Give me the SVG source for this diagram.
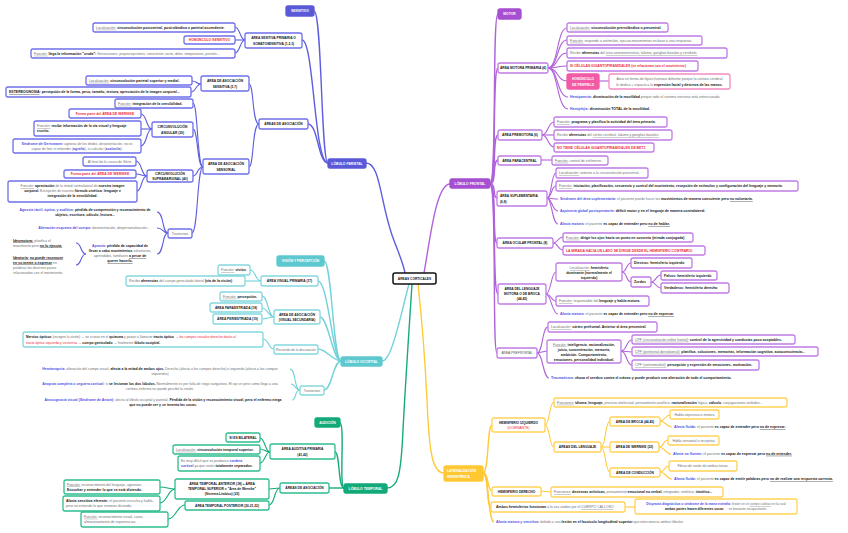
<svg xmlns="http://www.w3.org/2000/svg" width="848" height="533" viewBox="0 0 848 533">
<style>
text{font-family:"Liberation Sans",Arial,sans-serif;font-size:3.5px;fill:#707070}
.n{font-weight:700;fill:#151515;font-size:3.25px;text-anchor:middle}
.w{font-weight:700;fill:#fff;font-size:3.35px;text-anchor:middle}
.c{text-anchor:middle}
.k{font-weight:700;fill:#151515}
.u{text-decoration:underline}
.r{fill:#ef2b41;font-weight:700;font-size:3.4px}
.v{fill:#4f4fe3;font-weight:700}
rect{fill:#fff;stroke-width:1.3;rx:2px;ry:2px}
.P{stroke:#6f6fea}.F{stroke:#c07ce6}.O{stroke:#84d7de}.T{stroke:#2fbd8e}.L{stroke:#ffd257}
.PF{fill:#5a5ad8;stroke:#5a5ad8}.FF{fill:#a64fd1;stroke:#a64fd1}.OF{fill:#5ec8cf;stroke:#5ec8cf}.TF{fill:#13a979;stroke:#13a979}.LF{fill:#ffc833;stroke:#ffc833}
.pk{fill:#f25aa6;stroke:#f25aa6}.pb{stroke:#f48cc4}
.cx{fill:#fff;stroke:#111;stroke-width:1.5}
path{fill:none;stroke-width:1.1}
.m{stroke-width:1.4}
#cp path{stroke:#5d5ddf}#cf path{stroke:#b062da}#co path{stroke:#72d2d9}#ct path{stroke:#15ab7a}#cl path{stroke:#ffca3a}
</style>
<g id="connectors">
<g id="cp">
<path class="m" d="M328,163 C321,163 322,11 314,11"/>
<path class="m" d="M328,163 C314,163 314,40 302,40"/>
<path class="m" d="M328,163 C318,163 318,124 308,124"/>
<path class="m" d="M366,163 C380,163 380,200 392,235 C398,252 403,262 405,273"/>
<path d="M245,40 C240,40 240,27 235,27"/>
<path d="M245,40 L235,40"/>
<path d="M245,40 C240,40 240,53 235,53"/>
<path d="M259,124 C252,124 254,84 249,84"/>
<path d="M259,124 C252,124 254,167 249,167"/>
<path d="M201,84 C196,84 197,81 192,81"/>
<path d="M201,84 C196,84 196,92 191,92"/>
<path d="M203,167 C197,167 198,103 193,103"/>
<path d="M203,167 C197,167 198,129 193,129"/>
<path d="M203,167 C197,167 198,176 193,176"/>
<path d="M203,167 C197,167 198,233 192,233"/>
<path d="M152,129 C146,129 147,114 141,114"/>
<path d="M152,129 L141,129"/>
<path d="M152,129 C146,129 147,146 141,146"/>
<path d="M147,176 C141,176 142,161 136,161"/>
<path d="M147,176 C141,176 142,174 136,174"/>
<path d="M147,176 C141,176 142,191 137,191"/>
<path d="M168,233 C162,233 164,212 157,212"/>
<path d="M168,233 C162,233 164,228 157,228"/>
<path d="M168,233 C162,233 164,254 157,254"/>
<path d="M86,254 C80,254 82,243 76,243"/>
<path d="M86,254 C80,254 82,265 76,265"/>
</g>
<g id="cf">
<path class="m" d="M424,273 C430,240 436,184 450,184"/>
<path class="m" d="M490,184 C497,184 492,14 498,14"/>
<path class="m" d="M490,184 C497,184 492,68 498,68"/>
<path class="m" d="M490,184 C497,184 492,135 498,135"/>
<path class="m" d="M490,184 C497,184 492,160 498,160"/>
<path class="m" d="M490,184 C497,184 492,198 497,198"/>
<path class="m" d="M490,184 C497,184 492,243 497,243"/>
<path class="m" d="M490,184 C497,184 492,294 498,294"/>
<path class="m" d="M490,184 C497,184 492,353 497,353"/>
<path d="M548,68 C558,68 557,28 567,28"/>
<path d="M548,68 C558,68 557,40 567,40"/>
<path d="M548,68 C558,68 557,53 567,53"/>
<path d="M548,68 C558,68 557,66 567,66"/>
<path d="M548,68 C558,68 557,81 567,81"/>
<path d="M548,68 C558,68 557,97 568,97"/>
<path d="M548,68 C558,68 557,109 568,109"/>
<path d="M599,81 L609,81"/>
<path d="M542,135 C548,135 548,122 554,122"/>
<path d="M542,135 L554,135"/>
<path d="M542,135 C548,135 548,147 554,147"/>
<path d="M541,160 L552,160"/>
<path d="M547,198 C552,198 551,173 556,173"/>
<path d="M547,198 C552,198 551,186 556,186"/>
<path d="M547,198 C552,198 552,199 558,199"/>
<path d="M547,198 C552,198 552,211 558,211"/>
<path d="M547,198 C552,198 552,224 558,224"/>
<path d="M553,243 C558,243 558,237 563,237"/>
<path d="M553,243 C558,243 558,250 563,250"/>
<path d="M546,294 C551,294 551,272 556,272"/>
<path d="M546,294 C551,294 551,301 556,301"/>
<path d="M546,294 C551,294 552,314 558,314"/>
<path d="M622,272 C627,272 626,263 631,263"/>
<path d="M622,272 C627,272 626,282 631,282"/>
<path d="M651,282 C656,282 656,275 661,275"/>
<path d="M651,282 C656,282 656,288 661,288"/>
<path d="M537,353 C543,353 542,327 548,327"/>
<path d="M537,353 L547,351"/>
<path d="M537,353 C543,353 543,378 549,378"/>
<path d="M621,351 C627,351 626,340 632,340"/>
<path d="M621,351 L632,352"/>
<path d="M621,351 C627,351 626,365 632,365"/>
</g>
<g id="co">
<path class="m" d="M409,284 C402,310 396,340 389,354 C386,359 385,361 382,361"/>
<path class="m" d="M341,361 C333,361 332,261 324,261"/>
<path class="m" d="M341,361 C333,361 328,281 318,281"/>
<path class="m" d="M341,361 C333,361 328,317 320,317"/>
<path class="m" d="M341,361 C333,361 326,349 318,349"/>
<path class="m" d="M341,361 C333,361 332,390 324,390"/>
<path d="M261,281 C255,281 256,270 250,270"/>
<path d="M261,281 L245,281"/>
<path d="M274,317 C268,317 268,296 262,296"/>
<path d="M274,317 C268,317 268,308 262,308"/>
<path d="M274,317 C268,317 268,319 262,319"/>
<path d="M274,349 C268,349 269,339 263,339"/>
<path d="M300,390 C294,390 296,369 290,369"/>
<path d="M300,390 C294,390 296,384 291,384"/>
<path d="M300,390 C294,390 297,400 292,400"/>
</g>
<g id="ct">
<path class="m" d="M412,284 C409,330 405,390 403,430 C401,475 398,488 387,488"/>
<path class="m" d="M344,488 C339,488 345,423 340,423"/>
<path class="m" d="M344,488 C338,488 340,452 335,452"/>
<path class="m" d="M344,488 L329,488"/>
<path d="M270,452 C265,452 265,438 260,438"/>
<path d="M270,452 C265,452 265,449 260,449"/>
<path d="M270,452 C265,452 265,463 260,463"/>
<path d="M280,488 L269,489"/>
<path d="M280,488 C274,488 275,505 269,505"/>
<path d="M175,489 C168,489 167,487 160,487"/>
<path d="M175,489 C168,489 167,503 160,503"/>
<path d="M185,505 C177,505 176,519 168,519"/>
</g>
<g id="cl">
<path class="m" d="M418,284 C422,320 425,360 427,400 C429,450 432,473 444,473"/>
<path class="m" d="M483,473 C489,473 487,425 492,425"/>
<path class="m" d="M483,473 C489,473 487,491 492,491"/>
<path class="m" d="M483,473 C489,473 486,507 491,507"/>
<path class="m" d="M483,473 C489,473 488,522 494,522"/>
<path d="M545,425 C550,425 549,402 554,402"/>
<path d="M545,425 C550,425 549,447 554,447"/>
<path d="M601,447 C606,447 605,421 610,421"/>
<path d="M601,447 L610,447"/>
<path d="M601,447 C606,447 605,472 610,472"/>
<path d="M660,421 C665,421 665,415 670,415"/>
<path d="M660,421 C665,421 667,427 672,427"/>
<path d="M659,447 C664,447 663,440 668,440"/>
<path d="M659,447 C664,447 666,454 671,454"/>
<path d="M660,472 C665,472 664,466 669,466"/>
<path d="M660,472 C665,472 667,479 672,479"/>
<path d="M541,491 L551,492"/>
<path d="M625,507 L635,507"/>
</g>
</g>

<g id="central"><rect class="cx" x="393" y="273" width="43" height="11"/><text class="n" x="414.5" y="279.8">ÁREAS CORTICALES</text></g>

<!-- PARIETAL -->
<g id="sensitivo"><rect class="PF" x="286" y="6" width="28" height="10"/><text class="w" x="300" y="12.2">SENSITIVO</text></g>
<g id="lobulo-parietal"><rect class="PF" x="328" y="159" width="38" height="9"/><text class="w" x="347" y="164.7">LÓBULO PARIETAL</text></g>
<g id="area-sensitiva-primaria"><rect class="P" x="245" y="33" width="57" height="15"/><text class="n" x="273.5" y="39.3">ÁREA SESITIVA PRIMARIA O</text><text class="n" x="273.5" y="44.5">SOMATOSENSITIVA (1,2,3)</text></g>
<g id="p-loc1"><rect class="P" x="93" y="23" width="142" height="9"/><text x="96" y="28.8"><tspan class="u">Localización:</tspan><tspan class="k"> circunvolución postcentral, postrolándica o parietal ascendente.</tspan></text></g>
<g id="p-homunculo"><rect class="P" x="184" y="36" width="51" height="8"/><text class="r c" x="209.5" y="41.2">HOMÚNCULO SENSITIVO</text></g>
<g id="p-funcion1"><rect class="P" x="31" y="49" width="204" height="9"/><text x="34" y="54.8"><tspan class="u">Función:</tspan><tspan class="k"> llega la información "cruda":</tspan> Sensaciones, propiocepciones, consciente, tacto, dolor, temperatura, presión...</text></g>
<g id="p-areas-asoc"><rect class="P" x="259" y="119" width="49" height="10"/><text class="n" x="283.5" y="125.2">ÁREAS DE ASOCIACIÓN</text></g>
<g id="p-asoc-sensitiva"><rect class="P" x="201" y="76" width="48" height="15"/><text class="n" x="225" y="82.3">ÁREA DE ASOCIACIÓN</text><text class="n" x="225" y="87.5">SENSITIVA (5,7)</text></g>
<g id="p-loc2"><rect class="P" x="86" y="76" width="106" height="9"/><text x="89" y="81.8"><tspan class="u">Localización:</tspan><tspan class="k"> circunvolución parietal superior y medial.</tspan></text></g>
<g id="p-estereognosia"><rect class="P" x="6" y="87" width="185" height="10"/><text x="9" y="93.2"><tspan class="k u">ESTEREOGNOSIA</tspan><tspan class="k">: percepción de la forma, peso, tamaño, textura, apreciación de la imagen corporal...</tspan></text></g>
<g id="p-asoc-sensorial"><rect class="P" x="203" y="159" width="46" height="15"/><text class="n" x="226" y="165.3">ÁREA DE ASOCIACIÓN</text><text class="n" x="226" y="170.5">SENSORIAL</text></g>
<g id="p-funcion2"><rect class="P" x="115" y="99" width="78" height="9"/><text x="118" y="104.8"><tspan class="u">Función:</tspan><tspan class="k"> integración de la sensibilidad.</tspan></text></g>
<g id="p-angular"><rect class="P" x="152" y="122" width="41" height="15"/><text class="n" x="172.5" y="128.3">CIRCUNVOLUCIÓN</text><text class="n" x="172.5" y="133.5">ANGULAR (39)</text></g>
<g id="p-wernike1"><rect class="P" x="69" y="109" width="72" height="9"/><text class="r c" x="105" y="114.8">Forma parte del ÁREA DE WERNIKE</text></g>
<g id="p-funcion3"><rect class="P" x="34" y="121" width="107" height="15"/><text x="37" y="127.2"><tspan class="u">Función:</tspan><tspan class="k"> recibe información de la vía visual y lenguaje</tspan></text><text class="k" x="37" y="132.4">escrito.</text></g>
<g id="p-gertsmann"><rect class="P" x="13" y="139" width="128" height="14"/><text class="c" x="77" y="144.8"><tspan class="v">Síndrome de Gertsmann:</tspan> agnosia de los dedos, desorientación, no es</text><text class="c" x="77" y="149.8">capaz de leer ni entender (<tspan class="v">agrafia</tspan>), ni calcular (<tspan class="v">acalculia</tspan>).</text></g>
<g id="p-supramarginal"><rect class="P" x="147" y="170" width="46" height="12"/><text class="n" x="170" y="175.2">CIRCUNVOLUCIÓN</text><text class="n" x="170" y="180.3">SUPRAMARGINAL (40)</text></g>
<g id="p-silvio"><rect class="P" x="83" y="157" width="53" height="9"/><text class="c" x="109.5" y="162.8">Al final de la cisura de Silvio</text></g>
<g id="p-wernike2"><rect class="P" x="64" y="170" width="72" height="8"/><text class="r c" x="100" y="175.2">Forma parte del ÁREA DE WERNIKE</text></g>
<g id="p-funcion4"><rect class="P" x="8" y="181" width="129" height="21"/><text class="c" x="72.5" y="187"><tspan class="u">Función:</tspan><tspan class="k"> apreciación</tspan> de la mitad contralateral de <tspan class="k">nuestra imagen</tspan></text><text class="c" x="72.5" y="192"><tspan class="k">corporal.</tspan> Excepción de nuestra <tspan class="k">fórmula cinética: lenguaje e</tspan></text><text class="c k" x="72.5" y="197">integración de la sensibilidad.</text></g>
<g id="p-trastornos"><rect class="P" x="168" y="229" width="24" height="9"/><text class="c" x="180" y="234.6">Trastornos</text></g>
<g id="p-agnosia"><text class="c" x="85" y="211"><tspan class="v">Agnosia táctil, óptica, y auditiva:</tspan><tspan class="k"> pérdida de comprensión y reconocimiento de</tspan></text><text class="c k" x="85" y="216">objetos, escritura, cálculo, lectura...</text></g>
<g id="p-alteracion"><text class="c" x="94" y="228.5"><tspan class="v">Alteración esquema del cuerpo:</tspan> desorientación, despersonalización...</text></g>
<g id="p-apraxia"><text class="c" x="120" y="247"><tspan class="v">Apraxia:</tspan><tspan class="k"> pérdida de capacidad de</tspan></text><text class="c" x="120" y="252"><tspan class="k">llevar a cabo movimientos</tspan> voluntarios,</text><text class="c" x="120" y="257">aprendidos, familiares <tspan class="k u">a pesar de</tspan></text><text class="c k u" x="120" y="262">querer hacerlo.</text></g>
<g id="p-ideomotora"><text x="13" y="241.5"><tspan class="k u">Ideomotora:</tspan> planifica el</text><text x="13" y="246.5">movimiento pero <tspan class="k u">no lo ejecuta.</tspan></text></g>
<g id="p-ideatoria"><text x="13" y="258.5"><tspan class="k u">Ideatoria:</tspan> <tspan class="k u">no puede reconocer</tspan></text><text x="13" y="263.5"><tspan class="k u">en su mente o expresar</tspan> en</text><text x="13" y="268.5">palabras los diversos pasos</text><text x="13" y="273.5">relacionados con el movimiento.</text></g>

<!-- FRONTAL -->
<g id="motor"><rect class="FF" x="498" y="9" width="23" height="10"/><text class="w" x="509.5" y="15.2">MOTOR</text></g>
<g id="lobulo-frontal"><rect class="FF" x="450" y="179" width="40" height="9"/><text class="w" x="470" y="184.7">LÓBULO FRONTAL</text></g>
<g id="f-motora-primaria"><rect class="F" x="498" y="63" width="50" height="10"/><text class="n" x="523" y="69.2">ÁREA MOTORA PRIMARIA (4)</text></g>
<g id="f-loc1"><rect class="F" x="567" y="23" width="101" height="9"/><text x="570" y="28.8"><tspan class="u">Localización:</tspan><tspan class="k"> circunvolución prerrolándica o precentral.</tspan></text></g>
<g id="f-funcion1"><rect class="F" x="567" y="36" width="135" height="9"/><text x="570" y="41.8"><tspan class="u">Función:</tspan> responde a estímulos, ejecuta movimientos en base a una respuesta.</text></g>
<g id="f-recibe1"><rect class="F" x="567" y="48" width="160" height="10"/><text x="570" y="54.2">Recibe <tspan class="k">aferencias</tspan> del <tspan class="u">área somatosensitiva, tálamo, ganglios basales y cerebelo.</tspan></text></g>
<g id="f-celulas"><rect class="F" x="567" y="61" width="131" height="10"/><text class="r" x="570" y="67.2">SI CÉLULAS GIGANTOPIRAMIDALES (se relacionan con el movimiento)</text></g>
<g id="f-penfield"><rect class="pk" x="567" y="74" width="32" height="15"/><text class="w" x="583" y="80.2">HOMÚNCULO</text><text class="w" x="583" y="85.5">DE PENFIELD</text></g>
<g id="f-penfield-desc"><rect class="pb" x="609" y="74" width="121" height="15"/><text class="c" x="669.5" y="80.2">Área en forma de figura humana deforme porque la corteza cerebral</text><text class="c" x="669.5" y="85.5">le dedica + espacio a la <tspan class="k">expresión facial y destreza de las manos.</tspan></text></g>
<g id="f-hemiparesia"><text x="570" y="98"><tspan class="v">Hemiparesia:</tspan><tspan class="k"> disminución de la movilidad</tspan> porque todo el sistema nervioso está entrecruzado.</text></g>
<g id="f-hemiplejia"><text x="570" y="110"><tspan class="v">Hemiplejia:</tspan><tspan class="k"> disminución TOTAL de la movilidad.</tspan></text></g>
<g id="f-premotora"><rect class="F" x="498" y="130" width="44" height="10"/><text class="n" x="520" y="136.2">ÁREA PREMOTORA (6)</text></g>
<g id="f-funcion2"><rect class="F" x="554" y="117" width="113" height="10"/><text x="557" y="123.2"><tspan class="u">Función:</tspan><tspan class="k"> programa y planifica la actividad del área primaria.</tspan></text></g>
<g id="f-recibe2"><rect class="F" x="554" y="130" width="118" height="10"/><text x="557" y="136.2">Recibe <tspan class="k">aferencias</tspan> del <tspan class="u">córtex cerebral, tálamo y ganglios basales.</tspan></text></g>
<g id="f-betz"><rect class="F" x="554" y="143" width="100" height="9"/><text class="r" x="557" y="148.8">NO TIENE CÉLULAS GIGANTOPIRAMIDALES DE BETZ</text></g>
<g id="f-paracentral"><rect class="F" x="498" y="156" width="43" height="9"/><text class="n" x="519.5" y="161.8">ÁREA PARACENTRAL</text></g>
<g id="f-esfinteres"><rect class="F" x="552" y="156" width="56" height="9"/><text x="555" y="161.8"><tspan class="u">Función:</tspan> control de esfínteres.</text></g>
<g id="f-suplementaria"><rect class="F" x="497" y="191" width="50" height="15"/><text class="k" style="font-size:3.25px" x="500" y="197.3">ÁREA SUPLEMENTARIA</text><text class="k" style="font-size:3.25px" x="500" y="202.5">(6,8)</text></g>
<g id="f-loc2"><rect class="F" x="556" y="168" width="92" height="10"/><text x="559" y="174.2"><tspan class="u">Localización:</tspan> anterior a la circunvolución precentral.</text></g>
<g id="f-funcion3"><rect class="F" x="556" y="181" width="242" height="10"/><text x="559" y="187.2"><tspan class="u">Función:</tspan><tspan class="k"> iniciación, planificación, secuencia y control del movimiento, recepción de estímulos y configuración del lenguaje y memoria.</tspan></text></g>
<g id="f-sindrome"><text x="560" y="200.2"><tspan class="v">Síndrome del área suplementaria:</tspan> el paciente puede hacer los <tspan class="k">movimientos de manera consciente pero </tspan><tspan class="k u">no voluntaria.</tspan></text></g>
<g id="f-aquinesia"><text x="560" y="212.2"><tspan class="v">Aquinesia global postoperatoria:</tspan><tspan class="k"> déficit motor y en el lenguaje de manera contralateral.</tspan></text></g>
<g id="f-afasia1"><text x="560" y="225.2"><tspan class="v">Afasia motora:</tspan> el paciente <tspan class="k">es capaz de entender pero </tspan><tspan class="k u">no de hablar.</tspan></text></g>
<g id="f-ocular"><rect class="F" x="497" y="238" width="56" height="10"/><text class="n" x="525" y="244.2">ÁREA OCULAR FRONTAL (8)</text></g>
<g id="f-funcion4"><rect class="F" x="563" y="233" width="130" height="9"/><text x="566" y="238.8"><tspan class="u">Función:</tspan><tspan class="k"> dirigir los ojos hacia un punto en concreto (mirada conjugada)</tspan></text></g>
<g id="f-mirada"><rect class="F" x="563" y="246" width="142" height="9"/><text class="r" x="566" y="251.8">LA MIRADA HACIA UN LADO SE DIRIGE DESDE EL HEMISFERIO CONTRARIO.</text></g>
<g id="f-broca"><rect class="F" x="498" y="284" width="48" height="20"/><text class="n" x="522" y="290">ÁREA DEL LENGUAJE</text><text class="n" x="522" y="295.2">MOTORA O DE BROCA</text><text class="n" x="522" y="300.4">(44,45)</text></g>
<g id="f-loc3"><rect class="F" x="556" y="263" width="66" height="18"/><text class="c" x="589" y="269"><tspan class="u">Localización:</tspan><tspan class="k"> hemisferio</tspan></text><text class="c k" x="589" y="274">dominante (normalmente el</text><text class="c k" x="589" y="279">izquierdo)</text></g>
<g id="f-diestros"><rect class="F" x="631" y="258" width="61" height="10"/><text class="k" x="634" y="264.2">Diestros: hemisferio izquierdo</text></g>
<g id="f-zurdos"><rect class="F" x="631" y="277" width="20" height="10"/><text class="k" x="634" y="283.2">Zurdos</text></g>
<g id="f-falsos"><rect class="F" x="661" y="271" width="56" height="9"/><text class="k" x="664" y="276.8">Falsos: hemisferio izquierdo</text></g>
<g id="f-verdaderos"><rect class="F" x="661" y="283" width="68" height="10"/><text class="k" x="664" y="289.2">Verdaderos: hemisferio derecho</text></g>
<g id="f-funcion5"><rect class="F" x="556" y="296" width="93" height="10"/><text x="559" y="302.2"><tspan class="u">Función:</tspan> responsable del <tspan class="k">lenguaje y habla motora.</tspan></text></g>
<g id="f-afasia2"><text x="560" y="315.2"><tspan class="v">Afasia motora:</tspan> el paciente <tspan class="k">es capaz de entender pero </tspan><tspan class="k u">no de expresar.</tspan></text></g>
<g id="f-prefrontal"><rect class="F" x="497" y="348" width="40" height="10"/><text class="c" style="fill:#555;font-size:3.25px" x="517" y="354.2">ÁREA PREFRONTAL</text></g>
<g id="f-loc4"><rect class="F" x="548" y="322" width="109" height="10"/><text x="551" y="328.2"><tspan class="u">Localización:</tspan><tspan class="k"> córtex prefrontal. Anterior al área precentral.</tspan></text></g>
<g id="f-funcion6"><rect class="F" x="547" y="340" width="74" height="23"/><text class="c" x="584" y="345.6"><tspan class="u">Función:</tspan><tspan class="k"> inteligencia, racionalización,</tspan></text><text class="c k" x="584" y="350.6">juicio, concentración, memoria,</text><text class="c k" x="584" y="355.6">ambición. Comportamiento,</text><text class="c k" x="584" y="360.6">emociones, personalidad individual.</text></g>
<g id="f-cpf1"><rect class="F" x="632" y="335" width="163" height="9"/><text x="635" y="340.8"><tspan class="u">CPF (circunvolución orbito frontal):</tspan><tspan class="k"> control de la agresividad y conductas poco aceptables.</tspan></text></g>
<g id="f-cpf2"><rect class="F" x="632" y="347" width="186" height="9"/><text x="635" y="352.8"><tspan class="u">CPF (prefrontal dorsolateral):</tspan><tspan class="k"> planifica, soluciones, memorias, información cognitiva, autoconsciencia...</tspan></text></g>
<g id="f-cpf3"><rect class="F" x="632" y="360" width="127" height="10"/><text x="635" y="366.2"><tspan class="u">CPF (ventromedial):</tspan><tspan class="k"> percepción y expresión de emociones, motivación.</tspan></text></g>
<g id="f-traumatismo"><text x="551" y="379"><tspan class="v">Traumatismo:</tspan><tspan class="k"> choca el cerebro contra el cráneo y puede producir una alteración de todo el comportamiento.</tspan></text></g>

<!-- OCCIPITAL -->
<g id="vision"><rect class="OF" x="277" y="256" width="47" height="10"/><text class="w" x="300.5" y="262.2">VISIÓN Y PERCEPCIÓN</text></g>
<g id="lobulo-occipital"><rect class="OF" x="341" y="357" width="41" height="9"/><text class="w" x="361.5" y="362.7">LÓBULO OCCIPITAL</text></g>
<g id="o-visual-primaria"><rect class="O" x="261" y="276" width="57" height="10"/><text class="n" x="289.5" y="282.2">ÁREA VISUAL PRIMARIA (17)</text></g>
<g id="o-funcion1"><rect class="O" x="218" y="265" width="32" height="10"/><text x="221" y="271.2"><tspan class="u">Función:</tspan><tspan class="k"> visión.</tspan></text></g>
<g id="o-recibe"><rect class="O" x="126" y="276" width="119" height="10"/><text x="129" y="282.2">Recibe <tspan class="k">aferencias</tspan> del cuerpo geniculado lateral <tspan class="k">(vía de la visión)</tspan></text></g>
<g id="o-asociacion"><rect class="O" x="274" y="310" width="46" height="14"/><text class="n" x="297" y="315.8">ÁREA DE ASOCIACIÓN</text><text class="n" x="297" y="321">(VISUAL SECUNDARIA)</text></g>
<g id="o-funcion2"><rect class="O" x="220" y="292" width="42" height="9"/><text x="223" y="297.8"><tspan class="u">Función:</tspan><tspan class="k"> percepción.</tspan></text></g>
<g id="o-paraestriada"><rect class="O" x="210" y="303" width="52" height="9"/><text class="n" x="236" y="308.8">ÁREA PARAESTRIADA (18)</text></g>
<g id="o-periestriada"><rect class="O" x="213" y="314" width="49" height="10"/><text class="n" x="237.5" y="320.2">ÁREA PERIESTRIADA (19)</text></g>
<g id="o-recorrido"><rect class="O" x="274" y="345" width="44" height="9"/><text class="c" style="font-size:3.3px" x="296" y="350.8">Recorrido de la decusación</text></g>
<g id="o-nervios"><rect class="O" x="23" y="332" width="240" height="15"/><text style="font-size:3.4px" x="26" y="338.2"><tspan class="k">Nervios ópticos</tspan> (recogen la visión) → se cruzan en el <tspan class="k">quiasma</tspan> y pasan a llamarse <tspan class="k">tracto óptico</tspan> → <tspan class="r" style="font-weight:400">los campos visuales derecho darán al</tspan></text><text style="font-size:3.4px" x="26" y="343.6"><tspan class="r" style="font-weight:400">tracto óptico izquierdo y viceversa</tspan> → <tspan class="k">cuerpo geniculado</tspan> → finalmente <tspan class="k">lóbulo occipital.</tspan></text></g>
<g id="o-trastornos"><rect class="O" x="300" y="386" width="24" height="9"/><text class="c" x="312" y="391.7">Trastornos</text></g>
<g id="o-hemianopsia"><text class="c" x="160" y="369.5"><tspan class="v">Hemianopsia:</tspan> alteración del campo visual, <tspan class="k">afecta a la mitad de ambos ojos.</tspan> Derecha (afecta a los campos derecho) e izquierda (afecta a los campos</text><text class="c" x="160" y="374.5">izquierdos)</text></g>
<g id="o-anopsia"><text class="c" x="160" y="385"><tspan class="v">Anopsia completa o ceguera cortical:</tspan> si <tspan class="k">se lesionan los dos lóbulos.</tspan> Normalmente es por falta de riego sanguíneo. El ojo ve pero como llega a una</text><text class="c" x="160" y="390">corteza enferma no puede percibir la visión.</text></g>
<g id="o-anosognosia"><text class="c" x="163" y="400.5"><tspan class="v">Anosognosia visual (Síndrome de Anton):</tspan> afecta al lóbulo occipital y parietal. <tspan class="k">Pérdida de la visión y reconocimiento visual, pero el enfermo niega</tspan></text><text class="c k" x="163" y="405.5">que no puede ver y se inventa las cosas.</text></g>

<!-- TEMPORAL -->
<g id="audicion"><rect class="TF" x="315" y="418" width="25" height="9"/><text class="w" x="327.5" y="423.8">AUDICIÓN</text></g>
<g id="lobulo-temporal"><rect class="TF" x="344" y="484" width="43" height="9"/><text class="w" x="365.5" y="489.7">LÓBULO TEMPORAL</text></g>
<g id="t-auditiva"><rect class="T" x="270" y="444" width="65" height="15"/><text class="n" x="302.5" y="450.2">ÁREA AUDITIVA PRIMARIA</text><text class="n" x="302.5" y="455.5">(41,42)</text></g>
<g id="t-bilateral"><rect class="T" x="226" y="433" width="34" height="9"/><text class="n" x="243" y="438.8">SI ES BILATERAL</text></g>
<g id="t-loc"><rect class="T" x="173" y="445" width="87" height="9"/><text x="176" y="450.8"><tspan class="u">Localización:</tspan><tspan class="k"> circunvolución temporal superior.</tspan></text></g>
<g id="t-sordera"><rect class="T" x="178" y="456" width="82" height="15"/><text x="181" y="461.8">Es muy difícil que se produzca <tspan class="v">sordera</tspan></text><text x="181" y="467"><tspan class="v">cortical</tspan> ya que están <tspan class="k">totalmente separados.</tspan></text></g>
<g id="t-areas-asoc"><rect class="T" x="280" y="483" width="49" height="10"/><text class="n" x="304.5" y="489.2">ÁREAS DE ASOCIACIÓN</text></g>
<g id="t-anterior"><rect class="T" x="175" y="479" width="94" height="20"/><text class="n" x="222" y="484.7">ÁREA TEMPORAL ANTERIOR (38) + ÁREA</text><text class="n" x="222" y="489.8">TEMPORAL SUPERIOR = "Área de Wernike"</text><text class="n" x="222" y="494.9">(Sistema Límbico) (22)</text></g>
<g id="t-posterior"><rect class="T" x="185" y="501" width="84" height="9"/><text class="n" x="227" y="506.8">ÁREA TEMPORAL POSTERIOR (20,21,22)</text></g>
<g id="t-funcion1"><rect class="T" x="64" y="480" width="96" height="14"/><text x="67" y="485.6"><tspan class="u">Función:</tspan> reconocimiento del lenguaje, agnosias.</text><text class="k" x="67" y="490.6">Escuchar y entender lo que se está diciendo.</text></g>
<g id="t-afasia"><rect class="T" x="63" y="496" width="97" height="15"/><text x="66" y="501.8"><tspan class="k">Afasia sensitiva eferente:</tspan> el paciente escucha y habla,</text><text x="66" y="506.8">pero no entiende lo que estamos diciendo.</text></g>
<g id="t-funcion2"><rect class="T" x="81" y="512" width="87" height="15"/><text x="84" y="517.8"><tspan class="u">Función:</tspan> reconocimiento visual, caras,</text><text x="84" y="522.8">almacenamiento de experiencias.</text></g>

<!-- LATERALIZACION -->
<g id="lateralizacion"><rect class="LF" x="444" y="466" width="39" height="15"/><text class="w" style="text-anchor:start" x="447" y="472.2">LATERALIZACIÓN</text><text class="w" style="text-anchor:start" x="447" y="477.5">HEMISFÉRICA</text></g>
<g id="l-izquierdo"><rect class="L" x="492" y="418" width="53" height="14"/><text class="n" x="518.5" y="423.6">HEMISFERIO IZQUIERDO</text><text class="r c" style="font-weight:400;font-size:3.3px" x="518.5" y="428.9">(DOMINANTE)</text></g>
<g id="l-funciones1"><rect class="L" x="554" y="398" width="233" height="9"/><text x="557" y="403.8"><tspan class="u">Funciones:</tspan><tspan class="k"> idioma, lenguaje,</tspan> proceso intelectual, pensamiento analítico, <tspan class="k">racionalización</tspan> lógica, <tspan class="k">cálculo</tspan>, conjugaciones verbales...</text></g>
<g id="l-areas-lenguaje"><rect class="L" x="554" y="442" width="47" height="10"/><text class="n" x="577.5" y="448.2">ÁREAS DEL LENGUAJE</text></g>
<g id="l-broca"><rect class="L" x="610" y="417" width="50" height="9"/><text class="n" x="635" y="422.8">ÁREA DE BROCA (44,45)</text></g>
<g id="l-wernike"><rect class="L" x="610" y="442" width="49" height="10"/><text class="n" x="634.5" y="448.2">ÁREA DE WERNIKE (22)</text></g>
<g id="l-conduccion"><rect class="L" x="610" y="468" width="50" height="9"/><text class="n" x="635" y="473.8">ÁREA DE CONDUCCIÓN</text></g>
<g id="l-habla1"><rect class="L" x="670" y="410" width="49" height="9"/><text class="c" x="694.5" y="415.8">Habla expresiva o motora</text></g>
<g id="l-afasia1"><text x="674" y="428.3"><tspan class="v">Afasia fluida:</tspan> el paciente <tspan class="k">es capaz de entender pero </tspan><tspan class="k u">no de expresar.</tspan></text></g>
<g id="l-habla2"><rect class="L" x="668" y="436" width="51" height="9"/><text class="c" x="693.5" y="441.8">Habla sensorial o receptiva</text></g>
<g id="l-afasia2"><text x="673" y="454.8"><tspan class="v">Afasia no fluente:</tspan> el paciente <tspan class="k">es capaz de expresar pero </tspan><tspan class="k u">no de entender.</tspan></text></g>
<g id="l-fibras"><rect class="L" x="669" y="461" width="68" height="10"/><text class="c" x="703" y="467.2">Fibras de unión de ambas áreas.</text></g>
<g id="l-afasia3"><text x="674" y="480"><tspan class="v">Afasia fluida:</tspan> el paciente <tspan class="k">es capaz de emitir palabras pero </tspan><tspan class="k u">no de realizar una respuesta correcta.</tspan></text></g>
<g id="l-derecho"><rect class="L" x="492" y="487" width="49" height="9"/><text class="n" x="516.5" y="492.8">HEMISFERIO DERECHO</text></g>
<g id="l-funciones2"><rect class="L" x="551" y="487" width="172" height="10"/><text x="554" y="493.2"><tspan class="u">Funciones:</tspan><tspan class="k"> destrezas artísticas,</tspan> pensamiento <tspan class="k">emocional no verbal,</tspan> integrador, sintético, <tspan class="k">intuitivo...</tspan></text></g>
<g id="l-ambos"><rect class="L" x="491" y="502" width="134" height="10"/><text x="496" y="508.2"><tspan class="k">Ambos hemisferios funcionan</tspan> a la vez unidos por el <tspan class="u">CUERPO CALLOSO</tspan></text></g>
<g id="l-dispraxia"><rect class="L" x="635" y="499" width="162" height="15"/><text class="c" style="font-size:3.3px" x="716" y="505"><tspan class="v">Dispraxia diagnóstica o síndrome de la mano extraña:</tspan> lesión en el <tspan class="u">cuerpo calloso</tspan> en la cual</text><text class="c" style="font-size:3.3px" x="716" y="510.3"><tspan class="k">ambas partes hacen diferentes cosas</tspan> → es bastante incapacitante.</text></g>
<g id="l-afasia4"><text x="496" y="523.2"><tspan class="v">Afasia motora y sensitiva:</tspan> debido a una <tspan class="k">lesión en el fascículo longitudinal superior</tspan> que interconecta ambos lóbulos.</text></g>
</svg>
